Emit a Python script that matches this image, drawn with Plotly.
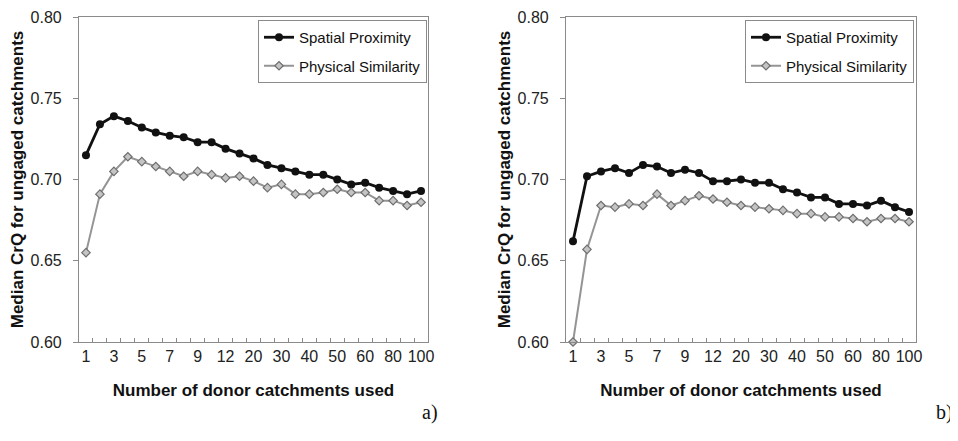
import plotly.graph_objects as go

categories = ["1", "2", "3", "4", "5", "6", "7", "8", "9", "10", "12", "15", "20",
              "25", "30", "35", "40", "45", "50", "55", "60", "70", "80", "90", "100"]
tick_labels = ["1", "", "3", "", "5", "", "7", "", "9", "", "12", "", "20",
               "", "30", "", "40", "", "50", "", "60", "", "80", "", "100"]

a_spatial = [0.715, 0.734, 0.739, 0.736, 0.732, 0.729, 0.727, 0.726, 0.723, 0.723,
             0.719, 0.716, 0.713, 0.709, 0.707, 0.705, 0.703, 0.703, 0.700, 0.697,
             0.698, 0.695, 0.693, 0.691, 0.693]
a_physical = [0.655, 0.691, 0.705, 0.714, 0.711, 0.708, 0.705, 0.702, 0.705, 0.703,
              0.701, 0.702, 0.699, 0.695, 0.697, 0.691, 0.691, 0.692, 0.694, 0.692,
              0.692, 0.687, 0.687, 0.684, 0.686]
b_spatial = [0.662, 0.702, 0.705, 0.707, 0.704, 0.709, 0.708, 0.704, 0.706, 0.704,
             0.699, 0.699, 0.700, 0.698, 0.698, 0.694, 0.692, 0.689, 0.689, 0.685,
             0.685, 0.684, 0.687, 0.683, 0.680]
b_physical = [0.600, 0.657, 0.684, 0.683, 0.685, 0.684, 0.691, 0.684, 0.687, 0.690,
              0.688, 0.686, 0.684, 0.683, 0.682, 0.681, 0.679, 0.679, 0.677, 0.677,
              0.676, 0.674, 0.676, 0.676, 0.674]

series_names = ["Spatial Proximity", "Physical Similarity"]
y_ticks = [0.60, 0.65, 0.70, 0.75, 0.80]

# page has an 8px body margin; figure size compensates
OFF = 8
W, H = 958 - OFF, 441 - OFF

def px(x):
    return (x - OFF) / W

def py(y):
    return 1 - (y - OFF) / H

fig = go.Figure()

panels = [
    (a_spatial, a_physical, "x", "y", "legend"),
    (b_spatial, b_physical, "x2", "y2", "legend2"),
]
for sp, ph, xa, ya, lg in panels:
    fig.add_trace(go.Scatter(
        x=categories, y=sp, name=series_names[0], mode="lines+markers",
        line=dict(color="#111111", width=2.8),
        marker=dict(symbol="circle", size=8, color="#111111"),
        xaxis=xa, yaxis=ya, legend=lg, legendgroup=lg + "a", cliponaxis=False))
    fig.add_trace(go.Scatter(
        x=categories, y=ph, name=series_names[1], mode="lines+markers",
        line=dict(color="#949494", width=2),
        marker=dict(symbol="diamond", size=6.5, color="#c4c4c4",
                    line=dict(color="#6e6e6e", width=1.2)),
        xaxis=xa, yaxis=ya, legend=lg, legendgroup=lg + "b", cliponaxis=False))

font_tick = dict(family="Liberation Sans, Arial, sans-serif", size=16, color="#222222")
font_title = dict(family="Liberation Sans, Arial, sans-serif", size=17, color="#111111")

def xaxis_cfg(domain, anchor):
    return dict(
        domain=domain, anchor=anchor, type="category", automargin=False,
        categoryorder="array", categoryarray=categories,
        tickmode="array", tickvals=categories, ticktext=tick_labels, tickangle=0,
        tickson="boundaries", ticks="inside", ticklen=4, tickcolor="#8a8a8a",
        showline=True, linecolor="#8a8a8a", linewidth=1.2, mirror=True,
        showgrid=False, zeroline=False, tickfont=font_tick,
        title=dict(text="<b>Number of donor catchments used</b>", font=font_title, standoff=19),
        range=[-0.5, len(categories) - 0.5],
    )

def yaxis_cfg(domain, anchor):
    return dict(
        domain=domain, anchor=anchor, range=[0.60, 0.80], automargin=False,
        tickmode="array", tickvals=y_ticks, tickformat=".2f",
        ticks="outside", ticklen=5, tickcolor="#8a8a8a",
        ticklabelstandoff=8,
        showline=True, linecolor="#8a8a8a", linewidth=1.2, mirror=True,
        showgrid=False, zeroline=False, tickfont=font_tick,
        title=dict(text="<b>Median CrQ for ungaged catchments</b>", font=font_title, standoff=2),
    )

legend_font = dict(family="Liberation Sans, Arial, sans-serif", size=15, color="#111111")
ydom = [py(342), py(17)]
fig.update_layout(
    width=W, height=H,
    margin=dict(l=0, r=0, t=0, b=0, autoexpand=False),
    paper_bgcolor="white", plot_bgcolor="white",
    showlegend=True,
    xaxis=xaxis_cfg([px(79), px(428)], "y"),
    yaxis=yaxis_cfg(ydom, "x"),
    xaxis2=xaxis_cfg([px(566), px(916)], "y2"),
    yaxis2=yaxis_cfg(ydom, "x2"),
    legend=dict(x=px(427), xanchor="right", y=py(20), yanchor="top",
                bgcolor="white", bordercolor="#8a8a8a", borderwidth=1,
                font=legend_font, tracegroupgap=6, itemwidth=30),
    legend2=dict(x=px(914), xanchor="right", y=py(20), yanchor="top",
                 bgcolor="white", bordercolor="#8a8a8a", borderwidth=1,
                 font=legend_font, tracegroupgap=6, itemwidth=30),
    annotations=[
        dict(text="a)", x=px(440), y=py(412), xref="paper", yref="paper",
             showarrow=False, xanchor="right", yanchor="middle",
             font=dict(family="Liberation Serif, Times New Roman, serif", size=20, color="#111111")),
        dict(text="b)", x=px(955), y=py(412), xref="paper", yref="paper",
             showarrow=False, xanchor="right", yanchor="middle",
             font=dict(family="Liberation Serif, Times New Roman, serif", size=20, color="#111111")),
    ],
)

fig.write_html("out.html")
